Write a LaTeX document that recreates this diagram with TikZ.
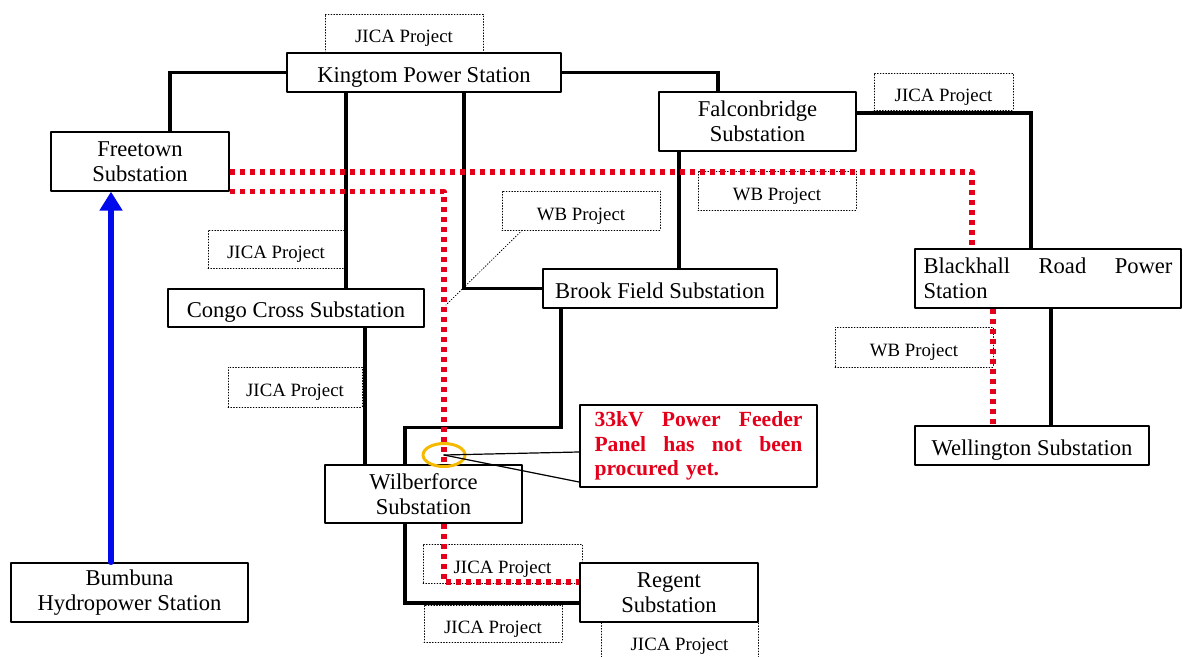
\documentclass[tikz,border=0pt]{standalone}
\usepackage{fontspec}
\setmainfont{Liberation Serif}
\usetikzlibrary{arrows.meta}
\usetikzlibrary{shapes.geometric}

\definecolor{feedred}{RGB}{228,0,27}
\definecolor{linkblue}{RGB}{0,10,235}
\definecolor{ringgold}{RGB}{245,185,0}

\tikzset{
  station/.style={draw,line width=0.6pt,fill=white,inner sep=0pt,align=center,
    font=\fontsize{11.3}{12.5}\selectfont},
  project/.style={draw,densely dotted,line width=0.4pt,inner sep=0pt,
    text height=9.9pt,text depth=0pt,font=\fontsize{9.4}{11}\selectfont},
  oneline/.style={text height=9.9pt,text depth=0pt},
  feeder/.style={line width=1.7pt,line join=miter,line cap=rect},
  planned/.style={feedred,line width=2.6pt,line cap=butt,dash pattern=on 2.6pt off 2.4pt},
  supply/.style={linkblue,line width=2.6pt,-{Triangle[width=11pt,length=9.5pt]}},
  callout/.style={line width=0.6pt},
}

\begin{document}
\begin{tikzpicture}[line cap=round,line join=round,x=0.5pt,y=-0.5pt]
\useasboundingbox (0,0) rectangle (1183,657);
\clip (0,0) rectangle (1183,657);
\node[station,oneline,minimum width=137pt,minimum height=19.5pt] (kingtom) at (424,72.5) {Kingtom Power Station};
\node[project,minimum width=79pt,minimum height=19pt] (jicaK) at (404,33) {JICA Project};
\node[station,minimum width=89pt,minimum height=29.5pt] (freetown) at (140,161.5) {Freetown\\Substation};
\node[station,minimum width=98.5pt,minimum height=29.5pt] (falcon) at (757.5,121.5) {Falconbridge\\Substation};
\node[project,minimum width=69.5pt,minimum height=18.5pt] (jicaF) at (943.5,91.5) {JICA Project};
\node[project,minimum width=79pt,minimum height=19.5pt] (wbF) at (777,190.5) {WB Project};
\node[project,minimum width=79pt,minimum height=19.5pt] (wbM) at (581,210.5) {WB Project};
\node[project,minimum width=68pt,minimum height=19pt] (jicaL) at (276,249) {JICA Project};
\node[station,oneline,minimum width=128pt,minimum height=19pt] (congo) at (296,308) {Congo Cross Substation};
\node[station,oneline,minimum width=117pt,minimum height=19.5pt] (brook) at (660,288.5) {Brook Field Substation};
\node[station,align=left,text width=124.5pt,inner xsep=4.25pt,minimum height=29.5pt] (blackhall) at (1048,278.5) {Blackhall\hfill Road\hfill Power\\Station};
\node[project,minimum width=79pt,minimum height=20pt] (wbR) at (914,347) {WB Project};
\node[project,minimum width=67pt,minimum height=20pt] (jicaLL) at (295,387) {JICA Project};
\node[draw,line width=1pt,fill=white,text=feedred,align=left,text width=104pt,inner xsep=7.25pt,minimum height=39pt,
  font=\fontsize{10.8}{12.3}\selectfont\bfseries] (note) at (698.5,446) {33kV\hfill Power\hfill Feeder\\Panel\hfill has\hfill not\hfill been\\procured yet.};
\node[station,oneline,minimum width=117pt,minimum height=19.5pt] (wellington) at (1032,445.5) {Wellington Substation};
\node[station,minimum width=98.5pt,minimum height=29pt] (wilber) at (423.5,494) {Wilberforce\\Substation};
\node[project,minimum width=79.5pt,minimum height=19.5pt] (jicaW) at (502.5,563.5) {JICA Project};
\node[station,minimum width=89pt,minimum height=29.5pt] (regent) at (669,592.5) {Regent\\Substation};
\node[project,minimum width=69pt,minimum height=18.5pt] (jicaB1) at (493,623.5) {JICA Project};
\node[project,minimum width=78.5pt,minimum height=19pt] (jicaB2) at (679.5,641) {JICA Project};
\node[station,minimum width=118.5pt,minimum height=29.5pt] (bumbuna) at (129.5,592.5) {Bumbuna\\Hydropower Station};
\coordinate (wbtip) at (446,305);

\draw[feeder] ([xshift=15pt]freetown.north) |- (kingtom.west);
\draw[feeder] (kingtom.east) -| ([xshift=-19.75pt]falcon.north);
\draw[feeder] ([xshift=-39pt]kingtom.south) -- ([xshift=-39pt]kingtom.south |- congo.north);
\draw[feeder] ([xshift=20pt]kingtom.south) |- (brook.west);
\draw[feeder] ([xshift=-39.25pt]falcon.south) -- ([xshift=-39.25pt]falcon.south |- brook.north);
\draw[feeder] ([yshift=4.25pt]falcon.east) -| ([xshift=-8.5pt]blackhall.north);
\draw[feeder] ([xshift=1.5pt]blackhall.south) -- ([xshift=1.5pt]blackhall.south |- wellington.north);
\draw[feeder] ([xshift=34.5pt]congo.south) -- ([xshift=34.5pt]congo.south |- wilber.north);
\draw[feeder] ([xshift=-49.5pt]brook.south) -- ++(0,119) -| ([xshift=-9.25pt]wilber.north);
\draw[feeder] ([xshift=-9.25pt]wilber.south) |- ([yshift=-5.25pt]regent.west);
\draw[supply] ([xshift=-9.25pt]bumbuna.north) -- ([xshift=-9.25pt]bumbuna.north |- freetown.south);

\draw[planned] ([yshift=-5.25pt]freetown.east) -| ([xshift=-38pt]blackhall.north);
\draw[planned] (freetown.south east) -| ([xshift=10.25pt]wilber.north);
\draw[planned] ([xshift=10.25pt]wilber.south) |- ([yshift=5.25pt]regent.west);
\draw[planned] ([xshift=-27.5pt]blackhall.south) -- ([xshift=-27.5pt]blackhall.south |- wellington.north);

\node[ellipse,draw=ringgold,line width=1.5pt,minimum width=21pt,minimum height=11.5pt,inner sep=0pt] (fault) at (444,455) {};
\draw[callout] (fault.center) -- ([yshift=-3pt]note.west);
\draw[callout] (fault.center) -- ([yshift=-18pt]note.west);
\draw[densely dotted,line width=0.4pt] ([xshift=-29.5pt]wbM.south) -- (wbtip);
\end{tikzpicture}
\end{document}
